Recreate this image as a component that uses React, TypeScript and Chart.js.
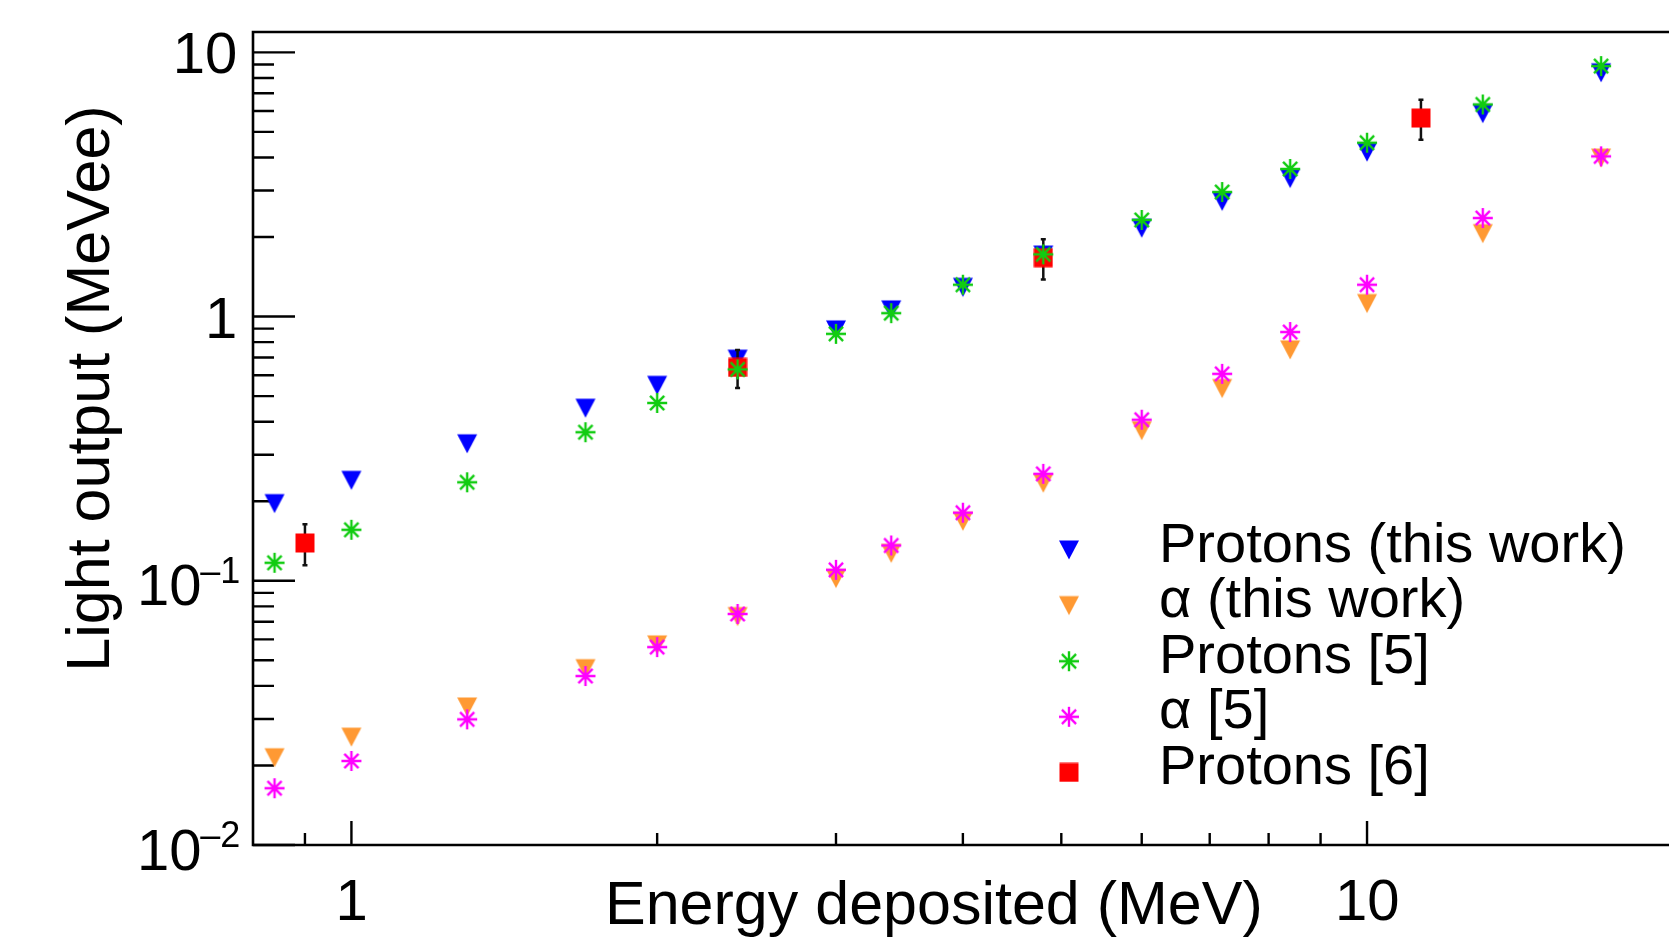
import React, { useEffect, useRef } from 'react';
import { Chart, registerables } from 'chart.js';

Chart.register(...registerables);

// ---------------- data ----------------
const energies = [0.84, 1.0, 1.3, 1.7, 2.0, 2.4, 3.0, 3.4, 4.0, 4.8, 6.0, 7.2, 8.4, 10, 13, 17];
const protonsThisWork = [0.196, 0.240, 0.330, 0.450, 0.549, 0.69, 0.89, 1.06, 1.29, 1.71, 2.16, 2.73, 3.33, 4.19, 5.86, 8.37];
const alphaThisWork = [0.0214, 0.0256, 0.0333, 0.0465, 0.0572, 0.0732, 0.102, 0.127, 0.168, 0.234, 0.370, 0.534, 0.748, 1.12, 2.06, 3.98];
const protonsRef5 = [0.117, 0.156, 0.236, 0.365, 0.471, 0.631, 0.86, 1.03, 1.32, 1.72, 2.32, 2.96, 3.62, 4.55, 6.35, 8.87];
const alphaRef5 = [0.0164, 0.0208, 0.0299, 0.0436, 0.0561, 0.0749, 0.110, 0.136, 0.181, 0.254, 0.407, 0.607, 0.874, 1.32, 2.36, 4.04];
const protonsRef6Energy = [0.9, 2.4, 4.8, 11.3];
const protonsRef6 = [0.139, 0.642, 1.67, 5.64];
const protonsRef6Error = [0.0245, 0.106, 0.29, 0.975];

const seriesLabels = ['Protons (this work)', 'α (this work)', 'Protons [5]', 'α [5]', 'Protons [6]'];
const seriesColors = ['#0000ff', '#ff9933', '#11cc11', '#ff00ff', '#ff0000'];

const xRange = [0.8, 19.83];
const yRange = [0.01, 11.94];
const xMajorTicks = [1, 10];
const xMinorTicks = [0.9, 2, 3, 4, 5, 6, 7, 8, 9];
const yMajorTicks = [0.01, 0.1, 1, 10];
const yMinorTicks = [
  0.02, 0.03, 0.04, 0.05, 0.06, 0.07, 0.08, 0.09,
  0.2, 0.3, 0.4, 0.5, 0.6, 0.7, 0.8, 0.9,
  2, 3, 4, 5, 6, 7, 8, 9,
];
const xLabelValues = [1, 10];
const xLabelTexts = ['1', '10'];
const yLabelValues = [0.01, 0.1, 1, 10];
const yLabelBases = ['10', '10', '1', '10'];
const yLabelExps = ['–2', '–1', '', ''];
const xTitle = 'Energy deposited (MeV)';
const yTitle = 'Light output (MeVee)';

const FONT = '"Liberation Sans", Arial, Helvetica, sans-serif';

// ---------------- marker images ----------------
function makeTriangle(color: string) {
  const c = document.createElement('canvas');
  c.width = 22; c.height = 22;
  const g = c.getContext('2d')!;
  g.fillStyle = color;
  g.beginPath();
  g.moveTo(1, 1.5);
  g.lineTo(21, 1.5);
  g.lineTo(11, 20.5);
  g.closePath();
  g.fill();
  return c;
}
function makeStar(color: string) {
  const c = document.createElement('canvas');
  c.width = 24; c.height = 24;
  const g = c.getContext('2d')!;
  const cx = 12, r = 10, d = r * 0.7071;
  g.strokeStyle = color;
  g.lineWidth = 2.4;
  g.beginPath();
  g.moveTo(cx, cx - r); g.lineTo(cx, cx + r);
  g.moveTo(cx - r, cx); g.lineTo(cx + r, cx);
  g.moveTo(cx - d, cx - d); g.lineTo(cx + d, cx + d);
  g.moveTo(cx - d, cx + d); g.lineTo(cx + d, cx - d);
  g.stroke();
  return c;
}
function makeSquare(color: string) {
  const c = document.createElement('canvas');
  c.width = 20; c.height = 20;
  const g = c.getContext('2d')!;
  g.fillStyle = color;
  g.fillRect(0.5, 0.5, 19, 19);
  return c;
}

export default function App() {
  const ref = useRef<HTMLCanvasElement>(null);

  useEffect(() => {
    const canvas = ref.current!;
    const markers = [
      makeTriangle(seriesColors[0]),
      makeTriangle(seriesColors[1]),
      makeStar(seriesColors[2]),
      makeStar(seriesColors[3]),
      makeSquare(seriesColors[4]),
    ];

    const axesPlugin = {
      id: 'rootAxes',
      beforeDatasetsDraw(chart: any) {
        const { ctx, chartArea: a, scales } = chart;
        const xs = scales.x, ys = scales.y;
        const W = chart.width;
        ctx.save();
        ctx.strokeStyle = '#000';
        ctx.lineWidth = 2.6;
        ctx.beginPath();
        ctx.moveTo(W + 5, a.top); ctx.lineTo(a.left, a.top);
        ctx.lineTo(a.left, a.bottom); ctx.lineTo(W + 5, a.bottom);
        ctx.stroke();
        ctx.lineWidth = 2.4;
        ctx.beginPath();
        yMajorTicks.forEach(v => { const p = ys.getPixelForValue(v); ctx.moveTo(a.left, p); ctx.lineTo(a.left + 42, p); });
        yMinorTicks.forEach(v => { const p = ys.getPixelForValue(v); ctx.moveTo(a.left, p); ctx.lineTo(a.left + 21, p); });
        xMajorTicks.forEach(v => { const p = xs.getPixelForValue(v); ctx.moveTo(p, a.bottom); ctx.lineTo(p, a.bottom - 24); });
        xMinorTicks.forEach(v => { const p = xs.getPixelForValue(v); ctx.moveTo(p, a.bottom); ctx.lineTo(p, a.bottom - 12); });
        ctx.stroke();

        // tick labels
        ctx.fillStyle = '#000';
        ctx.textAlign = 'left';
        ctx.textBaseline = 'alphabetic';
        const base = `58px ${FONT}`;
        const sup = `36px ${FONT}`;
        const rightInk = a.left - 19;
        yLabelValues.forEach((v, i) => {
          const py = ys.getPixelForValue(v);
          const b = yLabelBases[i];
          const e = yLabelExps[i];
          ctx.font = base;
          const mb = ctx.measureText(b);
          if (!e) {
            ctx.fillText(b, rightInk + 1 - mb.actualBoundingBoxRight, py + 21);
          } else {
            const baseX = a.left - 112 + mb.actualBoundingBoxLeft;
            ctx.fillText(b, baseX, py + 24.5);
            const baseInkRight = baseX + mb.actualBoundingBoxRight;
            ctx.font = sup;
            const ms = ctx.measureText(e);
            ctx.fillText(e, baseInkRight + 1 + ms.actualBoundingBoxLeft, py + 2);
          }
        });
        ctx.font = base;
        xLabelValues.forEach((v, i) => {
          const px = xs.getPixelForValue(v);
          const t = xLabelTexts[i];
          const m = ctx.measureText(t);
          const inkW = m.actualBoundingBoxRight + m.actualBoundingBoxLeft;
          ctx.fillText(t, px - inkW / 2 + m.actualBoundingBoxLeft + 1, a.bottom + 75);
        });

        // axis titles
        ctx.font = `61px ${FONT}`;
        ctx.fillText(xTitle, 605, a.bottom + 79);
        ctx.save();
        ctx.font = `61px ${FONT}`;
        ctx.translate(108.7, 388.5);
        ctx.rotate(-Math.PI / 2);
        ctx.textAlign = 'center';
        ctx.fillText(yTitle, 0, 0);
        ctx.restore();
        ctx.restore();
      },
    };

    const errorBarPlugin = {
      id: 'errorBars',
      beforeDatasetDraw(chart: any, args: any) {
        if (args.index !== 4) return;
        const { ctx, scales } = chart;
        ctx.save();
        ctx.strokeStyle = '#111';
        ctx.lineWidth = 2.5;
        ctx.beginPath();
        protonsRef6Energy.forEach((x, i) => {
          const px = scales.x.getPixelForValue(x);
          const yHi = scales.y.getPixelForValue(protonsRef6[i] + protonsRef6Error[i]);
          const yLo = scales.y.getPixelForValue(protonsRef6[i] - protonsRef6Error[i]);
          ctx.moveTo(px, yHi); ctx.lineTo(px, yLo);
          ctx.moveTo(px - 2.5, yHi); ctx.lineTo(px + 2.5, yHi);
          ctx.moveTo(px - 2.5, yLo); ctx.lineTo(px + 2.5, yLo);
        });
        ctx.stroke();
        ctx.restore();
      },
    };

    const legendPlugin = {
      id: 'rootLegend',
      afterDraw(chart: any) {
        const { ctx } = chart;
        ctx.save();
        ctx.font = `56px ${FONT}`;
        ctx.fillStyle = '#000';
        ctx.textAlign = 'left';
        ctx.textBaseline = 'alphabetic';
        seriesLabels.forEach((lab, i) => {
          const cy = 550 + i * 55.6;
          const img = markers[i];
          ctx.drawImage(img, 1069 - img.width / 2, cy - img.height / 2);
          ctx.fillText(lab, 1159, cy + 11.5);
        });
        ctx.restore();
      },
    };

    const pts = (xs: number[], ys: number[]) => xs.map((x, i) => ({ x, y: ys[i] }));

    const chart = new Chart(canvas, {
      type: 'scatter',
      data: {
        datasets: [
          { label: seriesLabels[0], data: pts(energies, protonsThisWork), pointStyle: markers[0] as any, pointRadius: 10, order: 5 },
          { label: seriesLabels[1], data: pts(energies, alphaThisWork), pointStyle: markers[1] as any, pointRadius: 10, order: 4 },
          { label: seriesLabels[2], data: pts(energies, protonsRef5), pointStyle: markers[2] as any, pointRadius: 10, order: 2 },
          { label: seriesLabels[3], data: pts(energies, alphaRef5), pointStyle: markers[3] as any, pointRadius: 10, order: 1 },
          { label: seriesLabels[4], data: pts(protonsRef6Energy, protonsRef6), pointStyle: markers[4] as any, pointRadius: 10, order: 3 },
        ],
      },
      options: {
        animation: false,
        responsive: false,
        maintainAspectRatio: false,
        events: [],
        layout: { autoPadding: false, padding: { left: 253, top: 32, right: 0, bottom: 92 } },
        scales: {
          x: { type: 'logarithmic', min: xRange[0], max: xRange[1], display: false },
          y: { type: 'logarithmic', min: yRange[0], max: yRange[1], display: false },
        },
        plugins: { legend: { display: false }, tooltip: { enabled: false } },
      },
      plugins: [axesPlugin, errorBarPlugin, legendPlugin],
    } as any);

    return () => chart.destroy();
  }, []);

  return (
    <div style={{ position: 'fixed', left: 0, top: 0, width: 1669, height: 937, overflow: 'hidden', background: '#fff' }}>
      <canvas ref={ref} width={1669} height={937} style={{ display: 'block' }} />
    </div>
  );
}
